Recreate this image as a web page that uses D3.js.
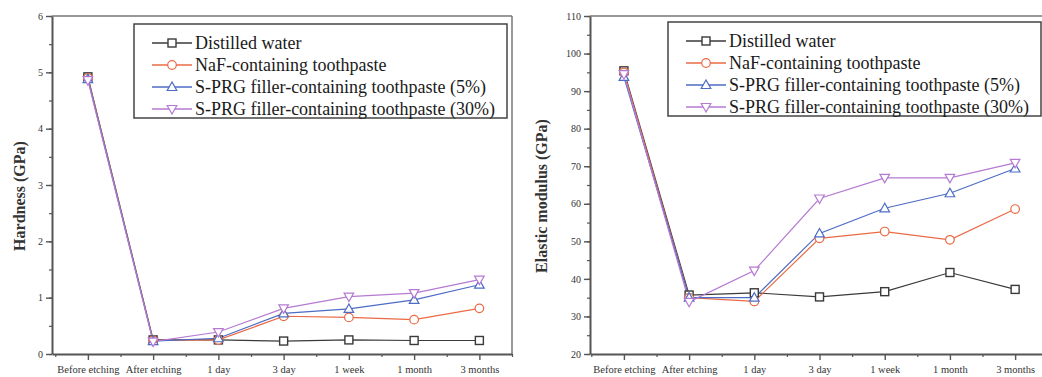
<!DOCTYPE html>
<html>
<head>
<meta charset="utf-8">
<script src="https://cdn.jsdelivr.net/npm/d3@7"></script>
<style>
  body { margin: 0; background: #fff; }
  svg, svg text { font-family: "Liberation Serif", "Times New Roman", Tinos, "DejaVu Serif", serif !important; }
  .legend text { font-size: 18px; fill: #1a1a1a; }
</style>
</head>
<body>
<script>
// Time points
var categories = ['Before etching', 'After etching', '1 day', '3 day', '1 week', '1 month', '3 months'];
var seriesNames = ['Distilled water', 'NaF-containing toothpaste',
                   'S-PRG filler-containing toothpaste (5%)', 'S-PRG filler-containing toothpaste (30%)'];

// Hardness (GPa)
var hardnessWater  = [4.92, 0.25, 0.25, 0.23, 0.25, 0.24, 0.24];
var hardnessNaF    = [4.90, 0.24, 0.25, 0.67, 0.65, 0.61, 0.81];
var hardnessSPRG5  = [4.88, 0.23, 0.28, 0.72, 0.80, 0.96, 1.23];
var hardnessSPRG30 = [4.86, 0.22, 0.39, 0.81, 1.02, 1.08, 1.32];
var hardnessTicks  = [0, 1, 2, 3, 4, 5, 6];

// Elastic modulus (GPa)
var modulusWater  = [95.4, 35.7, 36.3, 35.2, 36.6, 41.7, 37.2];
var modulusNaF    = [95.0, 35.0, 34.0, 50.8, 52.6, 50.4, 58.6];
var modulusSPRG5  = [93.8, 35.0, 35.0, 52.1, 58.8, 62.8, 69.4];
var modulusSPRG30 = [94.5, 33.9, 42.2, 61.4, 66.9, 66.9, 70.9];
var modulusTicks  = [20, 30, 40, 50, 60, 70, 80, 90, 100, 110];

var colors  = ['#3a3a3a', '#ea6a45', '#4d6cc4', '#b57ad2'];
var symbols = ['square', 'circle', 'up', 'down'];

var svg = d3.select('body').append('svg')
    .attr('width', 1042)
    .attr('height', 377);

function drawMarker(g, type, x, y, color) {
  if (type === 'square') {
    g.append('rect').attr('x', x - 4).attr('y', y - 4).attr('width', 8).attr('height', 8)
     .attr('fill', '#fff').attr('stroke', color).attr('stroke-width', 1.4);
  } else if (type === 'circle') {
    g.append('circle').attr('cx', x).attr('cy', y).attr('r', 4.3)
     .attr('fill', '#fff').attr('stroke', color).attr('stroke-width', 1.2);
  } else {
    var s = type === 'up' ? -1 : 1;
    var pts = [[x, y + s * 5], [x - 4.8, y - s * 3.5], [x + 4.8, y - s * 3.5]];
    g.append('path').attr('d', 'M' + pts.join('L') + 'Z')
     .attr('fill', '#fff').attr('stroke', color).attr('stroke-width', 1.2);
  }
}

function drawPanel(opt) {
  var g = svg.append('g');
  var x = d3.scaleLinear().domain(opt.xDomain).range([opt.left, opt.right]);
  var y = d3.scaleLinear().domain([opt.yTicks[0], opt.yTicks[opt.yTicks.length - 1]]).range([354, 16]);
  var step = opt.yTicks[1] - opt.yTicks[0];

  // Frame
  g.append('line').attr('x1', opt.left).attr('x2', opt.right).attr('y1', 16).attr('y2', 16)
   .attr('stroke', '#777').attr('stroke-width', 1.5);
  g.append('line').attr('x1', opt.right).attr('x2', opt.right).attr('y1', 16).attr('y2', 354)
   .attr('stroke', '#777').attr('stroke-width', 1.5);

  // Y axis
  var minorY = d3.range(opt.yTicks[0], opt.yTicks[opt.yTicks.length - 1] + 0.001, step / 2);
  g.append('g').attr('transform', 'translate(' + opt.left + ',0)')
   .call(d3.axisLeft(y).tickValues(minorY).tickSize(3).tickFormat(''))
   .call(function(a) { a.select('.domain').remove(); a.selectAll('line').attr('stroke', '#555').attr('stroke-width', 1.2); });
  var ya = g.append('g').attr('transform', 'translate(' + opt.left + ',0)')
   .call(d3.axisLeft(y).tickValues(opt.yTicks).tickSize(6).tickPadding(3).tickSizeOuter(0)
         .tickFormat(d3.format('d')));
  ya.select('.domain').attr('stroke', '#555').attr('stroke-width', 2);
  ya.selectAll('line').attr('stroke', '#555').attr('stroke-width', 1.4);
  ya.selectAll('text').style('font-size', '10px').attr('fill', '#333');

  // X axis
  var majorX = d3.range(categories.length);
  var minorX = d3.range(-0.5, categories.length, 1);
  g.append('g').attr('transform', 'translate(0,354)')
   .call(d3.axisBottom(x).tickValues(minorX).tickSize(3).tickFormat(''))
   .call(function(a) { a.select('.domain').remove(); a.selectAll('line').attr('stroke', '#555').attr('stroke-width', 1.2); });
  var xa = g.append('g').attr('transform', 'translate(0,354)')
   .call(d3.axisBottom(x).tickValues(majorX).tickSize(6).tickPadding(6).tickSizeOuter(0)
         .tickFormat(function(i) { return categories[i]; }));
  xa.select('.domain').attr('stroke', '#555').attr('stroke-width', 2);
  xa.selectAll('line').attr('stroke', '#555').attr('stroke-width', 1.4);
  xa.selectAll('text').style('font-size', '10.5px').attr('fill', '#333');

  // Y title
  g.append('text')
   .attr('transform', 'translate(' + opt.titleX + ',196) rotate(-90)')
   .attr('text-anchor', 'middle')
   .style('font-size', '16px').style('font-weight', 'bold').attr('fill', '#333')
   .text(opt.title);

  // Lines and markers
  var line = d3.line().x(function(d, i) { return x(i); }).y(function(d) { return y(d); });
  opt.series.forEach(function(vals, k) {
    g.append('path').attr('d', line(vals)).attr('fill', 'none')
     .attr('stroke', colors[k]).attr('stroke-width', 1.2);
  });
  opt.series.forEach(function(vals, k) {
    vals.forEach(function(v, i) { drawMarker(g, symbols[k], x(i), y(v), colors[k]); });
  });

  // Legend
  var lg = g.append('g').attr('class', 'legend');
  lg.append('rect').attr('x', opt.legX).attr('y', opt.legY).attr('width', opt.legW).attr('height', 94)
    .attr('fill', '#fff').attr('stroke', '#444').attr('stroke-width', 1.5);
  seriesNames.forEach(function(name, k) {
    var ry = opt.legY + 19 + k * 22;
    var lx = opt.legX + 18;
    lg.append('line').attr('x1', lx).attr('x2', lx + 40).attr('y1', ry).attr('y2', ry)
      .attr('stroke', colors[k]).attr('stroke-width', 1.5);
    drawMarker(lg, symbols[k], lx + 20, ry, colors[k]);
    lg.append('text').attr('x', lx + 43).attr('y', ry + 6).text(name);
  });
}

drawPanel({
  left: 52, right: 512, xDomain: [-0.55, 6.5],
  yTicks: hardnessTicks, title: 'Hardness (GPa)', titleX: 25,
  series: [hardnessWater, hardnessNaF, hardnessSPRG5, hardnessSPRG30],
  legX: 134, legY: 24, legW: 373
});

drawPanel({
  left: 590, right: 1051, xDomain: [-0.52, 6.55],
  yTicks: modulusTicks, title: 'Elastic modulus (GPa)', titleX: 547,
  series: [modulusWater, modulusNaF, modulusSPRG5, modulusSPRG30],
  legX: 668, legY: 22, legW: 373
});
</script>
</body>
</html>
